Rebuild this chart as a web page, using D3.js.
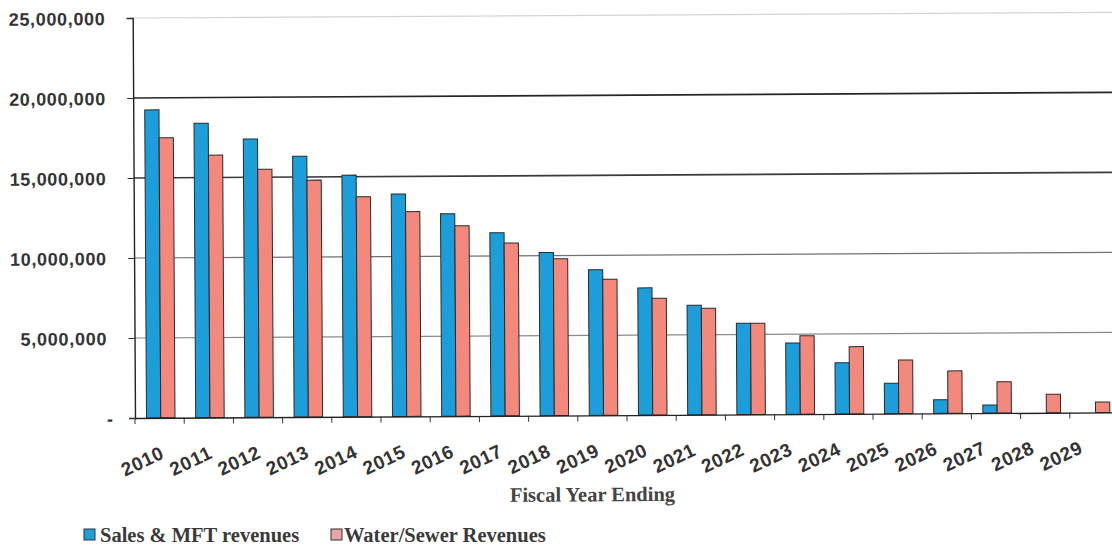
<!DOCTYPE html>
<html>
<head>
<meta charset="utf-8">
<script src="https://cdn.jsdelivr.net/npm/d3@7"></script>
<style>
  html, body { margin: 0; padding: 0; background: #fff; }
  svg { display: block; }
</style>
</head>
<body>
<svg id="chart" width="1112" height="545"></svg>
<script>
// Fiscal years shown on the category axis
const years = ["2010","2011","2012","2013","2014","2015","2016","2017","2018","2019",
               "2020","2021","2022","2023","2024","2025","2026","2027","2028","2029"];

// Sales & MFT revenues per fiscal year
const salesMft = [19250000, 18400000, 17400000, 16300000, 15100000, 13900000, 12650000, 11450000,
                  10200000, 9100000, 7950000, 6850000, 5700000, 4450000, 3200000, 1900000,
                  850000, 500000, 0, 0];

// Water/Sewer revenues per fiscal year
const waterSewer = [17500000, 16400000, 15500000, 14800000, 13750000, 12800000, 11900000, 10800000,
                    9800000, 8500000, 7300000, 6650000, 5700000, 4900000, 4200000, 3350000,
                    2650000, 1950000, 1150000, 650000];

// Value axis ticks and their labels
const yTicks = [0, 5000000, 10000000, 15000000, 20000000, 25000000];
const yTickLabels = ["-", "5,000,000", "10,000,000", "15,000,000", "20,000,000", "25,000,000"];

const seriesNames = ["Sales & MFT revenues", "Water/Sewer Revenues"];

const svg = d3.select("#chart");
const plotLeft = 135, plotTop = 18, plotBottom = 418, bandStep = 49.2;

// whole drawing sits on a very slight tilt
const g = svg.append("g").attr("transform", `rotate(-0.33, ${plotLeft}, ${plotBottom})`);

const x = d3.scaleBand().domain(years)
  .range([plotLeft, plotLeft + bandStep * years.length]).paddingInner(0).paddingOuter(0);
const x1 = d3.scaleBand().domain(seriesNames).range([11.5, 40]).padding(0);
const y = d3.scaleLinear().domain([0, 25000000]).range([plotBottom, plotTop]);
const color = d3.scaleOrdinal().domain(seriesNames).range(["#1c9edb", "#f3887c"]);

// horizontal gridlines
const gridShade = { 5000000: "#8a8a8a", 10000000: "#707070", 15000000: "#3a3a3a", 20000000: "#262626", 25000000: "#d4d4d4" };
g.append("g").selectAll("line").data(yTicks.filter(d => d > 0)).join("line")
  .attr("x1", plotLeft).attr("x2", 1130)
  .attr("y1", d => y(d)).attr("y2", d => y(d))
  .attr("stroke", d => gridShade[d])
  .attr("stroke-width", d => d >= 15000000 && d < 25000000 ? 1.6 : 1.2);

// bars
const rows = years.map((yr, i) => ({ year: yr, values: [
  { name: seriesNames[0], v: salesMft[i] },
  { name: seriesNames[1], v: waterSewer[i] }
]}));

g.append("g").selectAll("g").data(rows).join("g")
  .attr("transform", d => `translate(${x(d.year)},0)`)
  .selectAll("rect").data(d => d.values.filter(e => e.v > 0)).join("rect")
  .attr("x", d => x1(d.name))
  .attr("width", x1.bandwidth())
  .attr("y", d => y(d.v))
  .attr("height", d => y(0) - y(d.v))
  .attr("fill", d => color(d.name))
  .attr("stroke", "#2a2a2a")
  .attr("stroke-width", 1);

// value axis
const yAxis = d3.axisLeft(y).tickValues(yTicks)
  .tickFormat((d, i) => yTickLabels[i]).tickSize(6).tickPadding(22);
const yg = g.append("g").attr("transform", `translate(${plotLeft},0)`).call(yAxis);
yg.select(".domain").attr("stroke", "#222").attr("stroke-width", 1.4);
yg.selectAll(".tick line").attr("stroke", "#333");
yg.selectAll(".tick text")
  .attr("fill", "#333")
  .style("font-family", "'Liberation Sans', Arial, sans-serif")
  .style("font-size", "18px")
  .style("font-weight", "bold")
  .attr("textLength", d => d === 0 ? null : (d >= 10000000 ? 96 : 86))
  .attr("dx", d => d === 0 ? 6 : 0)
  .attr("dy", "0.36em");

// category axis
const xAxis = d3.axisBottom(x).tickSize(0).tickFormat("");
const xg = g.append("g").attr("transform", `translate(0,${plotBottom})`).call(xAxis);
xg.select(".domain").attr("stroke", "#222").attr("stroke-width", 1.4);
xg.append("g").selectAll("line").data(years).join("line")
  .attr("x1", d => x(d)).attr("x2", d => x(d))
  .attr("y1", 0).attr("y2", 6)
  .attr("stroke", "#333");

// year labels, slanted; they creep slightly left of centre across the axis
g.append("g").selectAll("text").data(years).join("text")
  .attr("transform", (d, i) => `translate(${x(d) + x.bandwidth() / 2 + 5 - 0.85 * i},${458}) rotate(-25)`)
  .attr("text-anchor", "end")
  .attr("fill", "#333")
  .style("font-family", "'Liberation Sans', Arial, sans-serif")
  .style("font-size", "19px")
  .style("font-weight", "bold")
  .attr("textLength", 44)
  .text(d => d);

// axis title
g.append("text")
  .attr("x", 592).attr("y", 504)
  .attr("text-anchor", "middle")
  .attr("fill", "#444")
  .style("font-family", "'Liberation Serif', 'Times New Roman', serif")
  .style("font-size", "20.5px")
  .style("font-weight", "bold")
  .text("Fiscal Year Ending");

// legend
const legendItems = [
  { name: seriesNames[0], sx: 84, tx: 100, fill: "#1c9edb" },
  { name: seriesNames[1], sx: 331, tx: 344, fill: "#e9a4a6" }
];
const lg = svg.append("g");
lg.selectAll("rect").data(legendItems).join("rect")
  .attr("x", d => d.sx).attr("y", 529).attr("width", 11).attr("height", 11)
  .attr("fill", d => d.fill).attr("stroke", "#333").attr("stroke-width", 1);
lg.selectAll("text").data(legendItems).join("text")
  .attr("x", d => d.tx).attr("y", 542)
  .attr("fill", "#3a3a3a")
  .style("font-family", "'Liberation Serif', 'Times New Roman', serif")
  .style("font-size", "20.5px")
  .style("font-weight", "bold")
  .text(d => d.name);
</script>
</body>
</html>
